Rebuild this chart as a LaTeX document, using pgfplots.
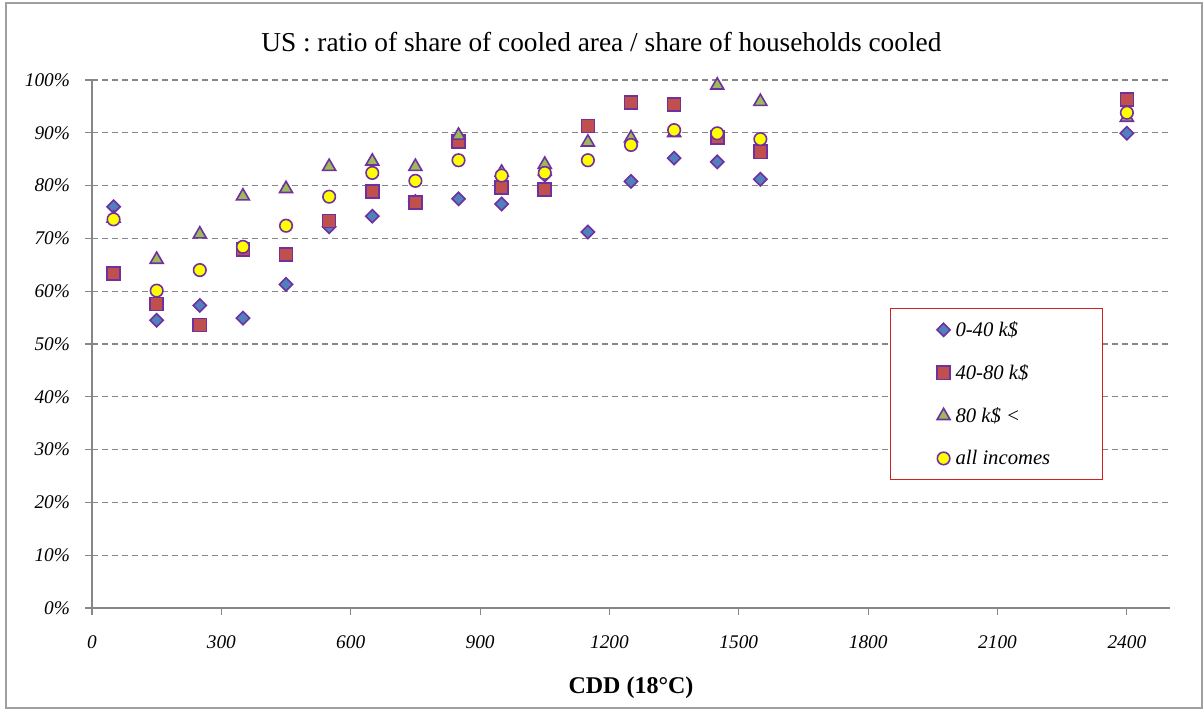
\documentclass[border=0pt]{standalone}
\usepackage{fontspec}
\setmainfont{Liberation Serif}
\usepackage{pgfplots}
\pgfplotsset{compat=1.18}
\definecolor{cblue}{HTML}{4F81BD}
\definecolor{cred}{HTML}{C0504D}
\definecolor{cgreen}{HTML}{9BBB59}
\definecolor{cyellow}{HTML}{FFFF00}
\definecolor{cpurple}{HTML}{7030A0}
\definecolor{cgrid}{HTML}{878787}
\definecolor{legred}{HTML}{D01F1F}
\begin{document}
\begin{tikzpicture}
\path[use as bounding box] (0,0) rectangle (902.25pt,531.75pt);
\draw[cgrid!80, line width=1.3pt] (4.5pt,0.7pt) rectangle (901.5pt,529.5pt);
\node[font=\fontsize{20.5}{24}\selectfont] at (451pt,500.5pt) {US : ratio of share of cooled area / share of households cooled};
\begin{axis}[
  at={(69pt,75.75pt)}, anchor=south west,
  scale only axis, width=808.5pt, height=396pt,
  xmin=0, xmax=2500, ymin=0, ymax=100,
  xtick={0,300,...,2400}, ytick={0,10,...,100},
  axis x line*=bottom, axis y line*=left,
  axis line style={cgrid, line width=0.9pt, -},
  tick align=outside, major tick length=5pt,
  tick style={cgrid, line width=0.8pt},
  ymajorgrids, grid style={cgrid, line width=0.8pt, dash pattern=on 4.5pt off 3pt},
  /pgf/number format/assume math mode=true,
  /pgf/number format/1000 sep={},
  ticklabel style={font=\itshape\fontsize{14.5}{17}\selectfont},
  yticklabel={\pgfmathprintnumber{\tick}\%},
  yticklabel style={xshift=-8pt},
  xticklabel style={yshift=-12pt},
  xlabel={\textbf{CDD (18°C)}},
  xlabel style={font=\fontsize{18}{21}\selectfont, at={(0.5,0)}, anchor=center, yshift=-60pt},
  legend style={at={(0.740,0.568)}, anchor=north west, draw=legred, line width=0.9pt,
    inner xsep=35pt, inner ysep=7.5pt, row sep=15.5pt, fill=white,
    font=\itshape\fontsize{15.5}{18}\selectfont,
    nodes={inner xsep=4pt}},
  legend cell align=left,
]
\addplot[only marks, mark=square*, mark size=3.5pt, mark options={rotate=45, fill=cblue, draw=cpurple, line width=1.2pt}] coordinates {
(50,76.0) (150,54.5) (250,57.3) (350,54.9) (450,61.3) (550,72.2) (650,74.2) (750,77.0) (850,77.5) (950,76.5) (1050,82.0) (1150,71.2) (1250,80.8) (1350,85.2) (1450,84.5) (1550,81.2) (2400,89.9)};
\addlegendentry{0-40 k\$}
\addplot[only marks, mark=square*, mark size=4.9pt, mark options={fill=cred, draw=cpurple, line width=1.2pt}] coordinates {
(50,63.4) (150,57.6) (250,53.6) (350,67.9) (450,66.9) (550,73.3) (650,78.9) (750,76.8) (850,88.3) (950,79.6) (1050,79.3) (1150,91.3) (1250,95.7) (1350,95.4) (1450,89.1) (1550,86.4) (2400,96.3)};
\addlegendentry{40-80 k\$}
\addplot[only marks, mark=triangle*, mark size=5.6pt, mark options={fill=cgreen, draw=cpurple, line width=1.2pt}] coordinates {
(50,73.8) (150,66.0) (250,70.8) (350,78.0) (450,79.4) (550,83.6) (650,84.6) (750,83.6) (850,89.5) (950,82.5) (1050,84.0) (1150,88.2) (1250,89.0) (1350,90.0) (1450,99.0) (1550,95.9) (2400,92.9)};
\addlegendentry{80 k\$ <}
\addplot[only marks, mark=*, mark size=4.7pt, mark options={fill=cyellow, draw=cpurple, line width=1.2pt}] coordinates {
(50,73.6) (150,60.1) (250,64.0) (350,68.4) (450,72.4) (550,77.9) (650,82.4) (750,80.9) (850,84.8) (950,81.9) (1050,82.4) (1150,84.8) (1250,87.7) (1350,90.5) (1450,89.9) (1550,88.8) (2400,93.8)};
\addlegendentry{all incomes}
\end{axis}
\end{tikzpicture}
\end{document}
